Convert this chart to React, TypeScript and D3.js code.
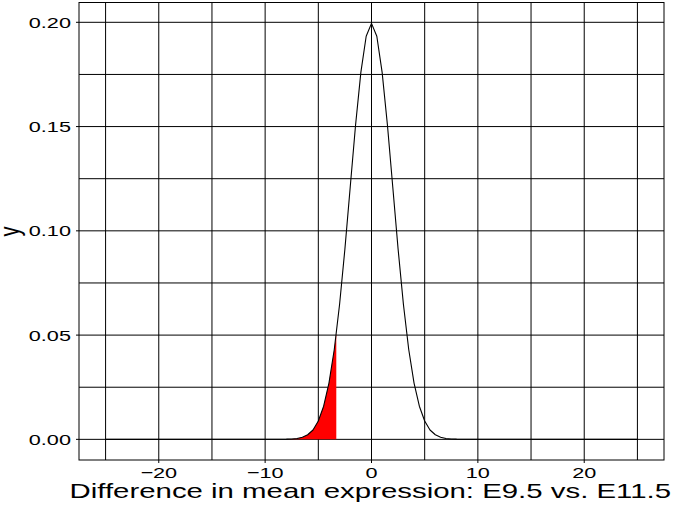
import React from "react";
import * as d3 from "d3";

// points of the density curve
const curveX = [-25, -8, -7.5, -7, -6.5, -6, -5.5, -5, -4.5, -4, -3.5, -3, -2.5, -2, -1.5, -1, -0.5, 0,
  0.5, 1, 1.5, 2, 2.5, 3, 3.5, 4, 4.5, 5, 5.5, 6, 6.5, 7, 7.5, 8, 25];
const curveY = [0, 0.0001, 0.0002, 0.0004, 0.001, 0.0022, 0.0045, 0.0088, 0.0159, 0.027, 0.0431, 0.0648,
  0.0913, 0.121, 0.1506, 0.176, 0.1933, 0.1995, 0.1933, 0.176, 0.1506, 0.121, 0.0913, 0.0648, 0.0431,
  0.027, 0.0159, 0.0088, 0.0045, 0.0022, 0.001, 0.0004, 0.0002, 0.0001, 0];

// red tail ends here
const cutoffX = -3.31;
const cutoffY = 0.0508;

const xTicks = [-20, -10, 0, 10, 20];
const xGrid = [-25, -20, -15, -10, -5, 0, 5, 10, 15, 20, 25];
const yTicks = [0, 0.05, 0.1, 0.15, 0.2];
const yGrid = [0, 0.025, 0.05, 0.075, 0.1, 0.125, 0.15, 0.175, 0.2];

const xLabel = "Difference in mean expression: E9.5 vs. E11.5";
const yLabel = "y";

const W = 677, H = 505;
const left = 79, right = 664, top = 2.5, bottom = 460;
const stretch = 1.4;
const font = "'Liberation Sans', Arial, Helvetica, sans-serif";

const App = () => {
  const x = d3.scaleLinear().domain([-27.5, 27.5]).range([left, right]);
  const y = d3.scaleLinear().domain([-0.0099, 0.2095]).range([bottom, top]);

  const pts: [number, number][] = curveX.map((v, i) => [v, curveY[i]]);
  const line = d3.line<[number, number]>().x((d) => x(d[0])).y((d) => y(d[1]));

  const shade: [number, number][] = pts.filter((d) => d[0] <= cutoffX && d[0] > -25);
  shade.push([cutoffX, cutoffY]);
  const area = d3
    .area<[number, number]>()
    .x((d) => x(d[0]))
    .y0(y(0))
    .y1((d) => y(d[1]));

  const fx = d3.format("d");
  const fy = d3.format(".2f");

  return (
    <svg width={W} height={H} style={{ position: "absolute", left: 0, top: 0 }} fontFamily={font}>
      <rect width={W} height={H} fill="white" />
      {/* grid */}
      {xGrid.map((g) => (
        <line key={"vx" + g} x1={x(g)} x2={x(g)} y1={top} y2={bottom} stroke="black" strokeWidth={1} />
      ))}
      {yGrid.map((g) => (
        <line key={"hy" + g} x1={left} x2={right} y1={y(g)} y2={y(g)} stroke="black" strokeWidth={1} />
      ))}

      {/* shaded tail + curve */}
      <path d={area(shade) || ""} fill="#ff0000" stroke="none" />
      <path d={line(pts) || ""} fill="none" stroke="black" strokeWidth={1.1} strokeLinejoin="round" />

      {/* frame */}
      <rect x={left} y={top} width={right - left} height={bottom - top} fill="none" stroke="black" strokeWidth={1} />

      {/* x axis */}
      {xTicks.map((t) => (
        <g key={"xt" + t}>
          <line x1={x(t)} x2={x(t)} y1={bottom} y2={bottom + 3} stroke="black" />
          <text transform={`translate(${x(t)},478.3) scale(${stretch},1)`} textAnchor="middle" fontSize={15.5}>
            {fx(t)}
          </text>
        </g>
      ))}
      {/* y axis */}
      {yTicks.map((t) => (
        <g key={"yt" + t}>
          <line x1={left - 3} x2={left} y1={y(t)} y2={y(t)} stroke="black" />
          <text transform={`translate(71,${y(t) + 5.5}) scale(${stretch},1)`} textAnchor="end" fontSize={15.5}>
            {fy(t)}
          </text>
        </g>
      ))}

      <text transform={`translate(370.3,498.3) scale(${stretch},1)`} textAnchor="middle" fontSize={21}>
        {xLabel}
      </text>
      <text transform={`translate(18.6,231.5) scale(${stretch},1) rotate(-90)`} textAnchor="middle" fontSize={20}>
        {yLabel}
      </text>
    </svg>
  );
};

export default App;
